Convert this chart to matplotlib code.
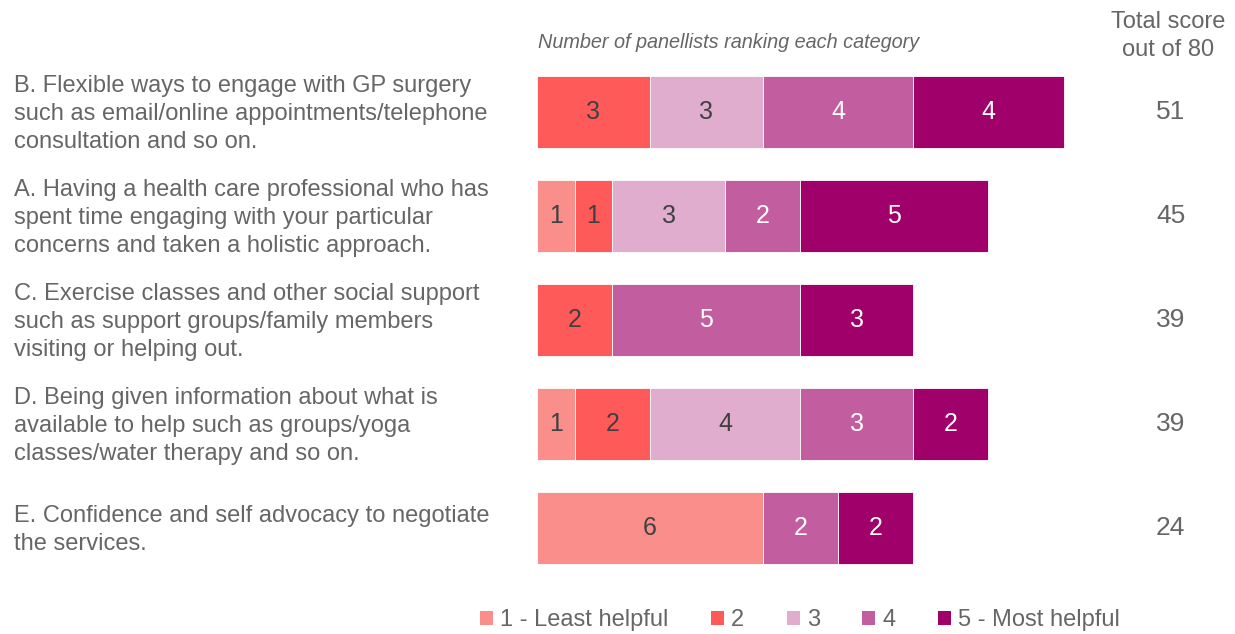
import matplotlib.pyplot as plt
from matplotlib.patches import Patch

plt.rcParams['font.family'] = ['Liberation Sans', 'DejaVu Sans']

categories = [
    "B. Flexible ways to engage with GP surgery\nsuch as email/online appointments/telephone\nconsultation and so on.",
    "A. Having a health care professional who has\nspent time engaging with your particular\nconcerns and taken a holistic approach.",
    "C. Exercise classes and other social support\nsuch as support groups/family members\nvisiting or helping out.",
    "D. Being given information about what is\navailable to help such as groups/yoga\nclasses/water therapy and so on.",
    "E. Confidence and self advocacy to negotiate\nthe services.",
]
rank_labels = ["1 - Least helpful", "2", "3", "4", "5 - Most helpful"]
rank1 = [0, 1, 0, 1, 6]
rank2 = [3, 1, 2, 2, 0]
rank3 = [3, 3, 0, 4, 0]
rank4 = [4, 2, 5, 3, 2]
rank5 = [4, 5, 3, 2, 2]
totals = [51, 45, 39, 39, 24]

colors = ["#F98E8A", "#FF5A5A", "#E0ADCE", "#C25E9F", "#A0006A"]
text_colors = ["#404040", "#404040", "#404040", "white", "white"]
grey = "#666666"

fig = plt.figure(figsize=(12.35, 6.34), dpi=100)
ax = fig.add_axes([537 / 1235, 54 / 634, 677 / 1235, 520 / 634])

series = [rank1, rank2, rank3, rank4, rank5]
ypos = list(range(len(categories)))
left = [0] * len(categories)
for vals, col, tcol in zip(series, colors, text_colors):
    ax.barh(ypos, vals, left=left, height=0.7, color=col, edgecolor="white", linewidth=0.6)
    for y, v, l in zip(ypos, vals, left):
        if v > 0:
            ax.text(l + v / 2, y, str(v), ha="center", va="center", fontsize=18, color=tcol)
    left = [a + b for a, b in zip(left, vals)]

# total scores to the right of the bars
for y, t in zip(ypos, totals):
    ax.text(16.85, y, str(t), ha="center", va="center", fontsize=19, color=grey)

ax.set_xlim(0, 18)
ax.set_ylim(4.5, -0.5)
ax.axis("off")

for y, lab in zip(ypos, categories):
    fig.text(14 / 1235, 1 - (114 + 104 * y) / 634, lab, ha="left", va="center",
             fontsize=17, color=grey, linespacing=1.38)

fig.text(538 / 1235, 1 - 43 / 634, "Number of panellists ranking each category",
         ha="left", va="center", fontsize=14.3, style="italic", color=grey)
fig.text(1168 / 1235, 1 - 36 / 634, "Total score\nout of 80", ha="center", va="center",
         fontsize=17, color=grey, linespacing=1.35)

handles = [Patch(facecolor=c, edgecolor="none") for c in colors]
fig.legend(handles, rank_labels, loc="center", bbox_to_anchor=(800 / 1235, 14 / 634),
           ncol=5, frameon=False, fontsize=17, handlelength=0.55, handleheight=0.55,
           handletextpad=0.3, columnspacing=1.8, labelcolor=grey)

fig.savefig("out.png", dpi=100)
